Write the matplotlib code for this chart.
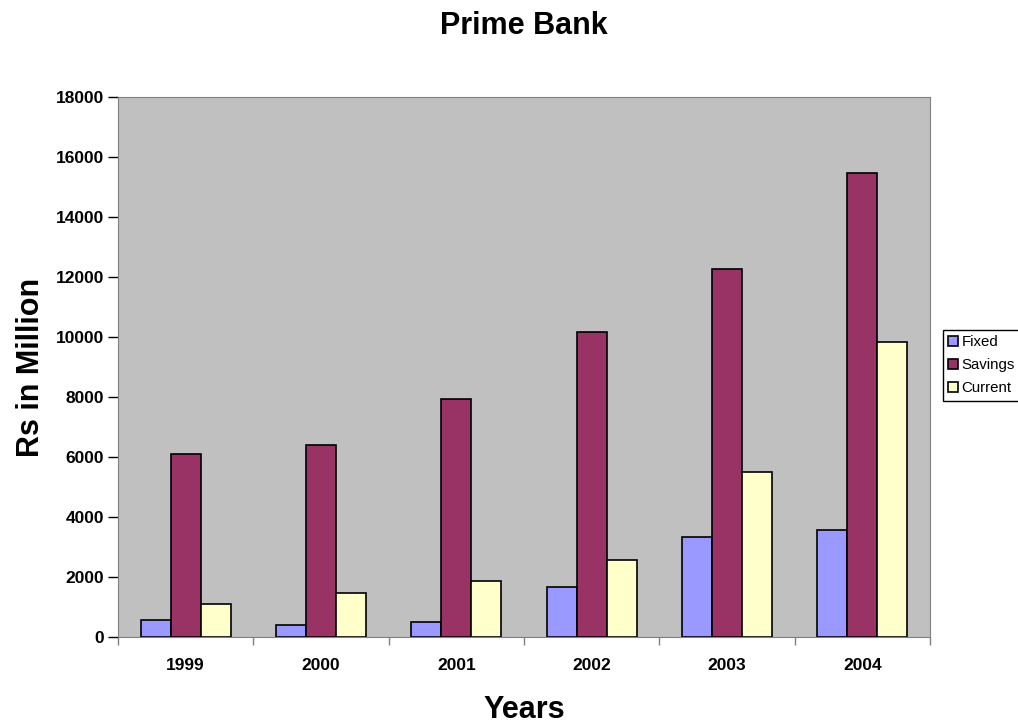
import numpy as np
import matplotlib
matplotlib.use("Agg")
import matplotlib.pyplot as plt

plt.rcParams['font.family'] = ['Liberation Sans', 'DejaVu Sans']

years = ["1999", "2000", "2001", "2002", "2003", "2004"]
fixed = [550, 410, 500, 1680, 3320, 3550]
savings = [6100, 6400, 7930, 10150, 12280, 15480]
current = [1100, 1450, 1850, 2570, 5500, 9840]

series = [("Fixed", fixed, "#9999FF"),
          ("Savings", savings, "#993366"),
          ("Current", current, "#FFFFCC")]

fig = plt.figure(figsize=(10.18, 7.28), dpi=100)
ax = fig.add_axes([0.1159, 0.125, 0.7977, 0.7418])
ax.set_facecolor("#C0C0C0")

x = np.arange(len(years))
width = 0.222
for i, (name, vals, color) in enumerate(series):
    ax.bar(x + (i - 1) * width, vals, width, color=color, edgecolor="black",
           linewidth=1.2, label=name, zorder=2)

ax.set_xlim(-0.5, len(years) - 0.5)
ax.set_ylim(0, 18000)
ax.set_yticks(np.arange(0, 18001, 2000))
ax.tick_params(axis='y', labelsize=12.5, length=7, width=1, pad=3)
ax.set_xticks(x)
ax.set_xticklabels(years, fontsize=12.5, fontweight="bold")
ax.tick_params(axis='x', length=0, pad=15)
ax.set_xticks(np.arange(-0.5, len(years), 1), minor=True)
ax.tick_params(axis='x', which='minor', length=6, width=1, colors="#808080")
for lab in ax.get_yticklabels():
    lab.set_fontweight("bold")

for side in ["top", "right", "left", "bottom"]:
    ax.spines[side].set_color("#808080")

ax.set_title("Prime Bank", fontsize=22, fontweight="bold", pad=45)
ax.set_ylabel("Rs in Million", fontsize=22, fontweight="bold", labelpad=7)
ax.set_xlabel("Years", fontsize=22, fontweight="bold", labelpad=16)

fig.legend(loc="upper left", bbox_to_anchor=(0.926, 0.5467), fontsize=10.8,
           frameon=True, fancybox=False, edgecolor="black", handlelength=0.7,
           handleheight=0.7, handletextpad=0.2, labelspacing=0.6,
           borderpad=0.35, borderaxespad=0, framealpha=1)

fig.savefig("out.png", dpi=100)
